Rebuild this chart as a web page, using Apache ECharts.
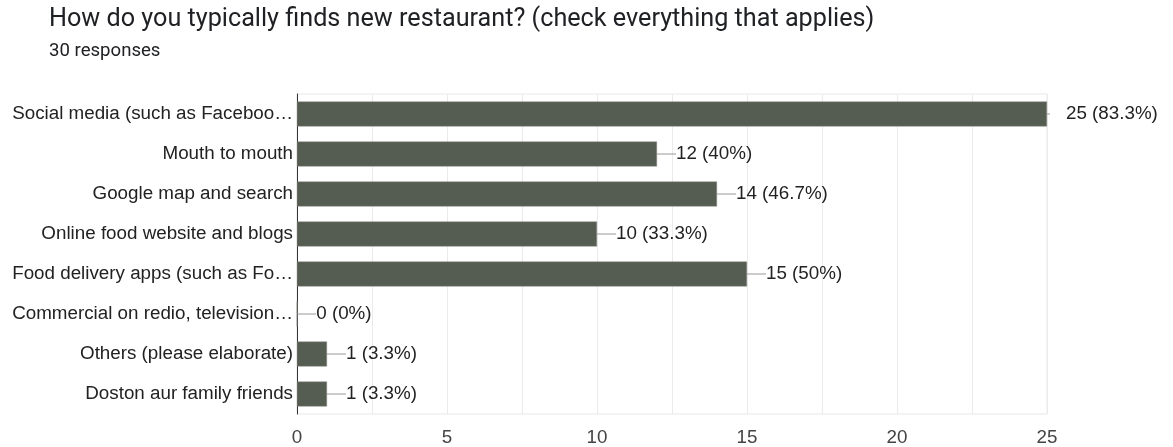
<!DOCTYPE html>
<html>
<head>
<meta charset="utf-8">
<script src="https://cdn.jsdelivr.net/npm/echarts@6/dist/echarts.min.js"></script>
<style>
  html, body { margin: 0; padding: 0; background: #fff; }
  #chart { width: 1173px; height: 447px; }
</style>
</head>
<body>
<div id="chart"></div>
<script>
// Survey question and response data
const questionTitle = 'How do you typically finds new restaurant? (check everything that applies)';
const responseCount = 30;
const categories = [
  'Social media (such as Faceboo…',
  'Mouth to mouth',
  'Google map and search',
  'Online food website and blogs',
  'Food delivery apps (such as Fo…',
  'Commercial on redio, television…',
  'Others (please elaborate)',
  'Doston aur family friends'
];
const counts = [25, 12, 14, 10, 15, 0, 1, 1];
const xTicks = [0, 5, 10, 15, 20, 25];

const xMax = xTicks[xTicks.length - 1];
const pct = v => Math.round(v / responseCount * 1000) / 10;
const labelFont = 'Liberation Sans, Arial, sans-serif';
const labelSize = 18.8;

const chart = echarts.init(document.getElementById('chart'));
chart.setOption({
  animation: false,
  title: [
    {
      text: questionTitle,
      left: 44, top: 2,
      textStyle: { fontFamily: 'Roboto', fontSize: 25.2, fontWeight: 'normal', color: '#202124' }
    },
    {
      text: responseCount + ' responses',
      left: 44, top: 37,
      textStyle: { fontFamily: 'Roboto', fontSize: 18.6, fontWeight: 'normal', color: '#202124' }
    }
  ],
  grid: {
    left: 297, top: 94, width: 750, height: 320,
    show: true, borderColor: '#e8e8e8', borderWidth: 1, backgroundColor: 'transparent'
  },
  xAxis: {
    type: 'value',
    min: xTicks[0], max: xMax, interval: 5,
    axisLine: { show: false },
    axisTick: { show: false },
    axisLabel: {
      margin: 14,
      fontFamily: labelFont,
      fontSize: labelSize, color: '#444'
    },
    splitLine: { show: true, lineStyle: { color: '#ebebeb', width: 1 } },
    minorTick: { show: false, splitNumber: 2 },
    minorSplitLine: { show: true, lineStyle: { color: '#ebebeb', width: 1 } }
  },
  yAxis: {
    type: 'category',
    data: categories,
    inverse: true,
    axisLine: { show: true, lineStyle: { color: '#333', width: 1 } },
    axisTick: { show: false },
    axisLabel: {
      margin: 4,
      fontFamily: labelFont,
      fontSize: labelSize, color: '#222'
    },
    splitLine: { show: false }
  },
  series: [{
    type: 'bar',
    data: counts,
    barWidth: 25,
    itemStyle: { color: '#555c51', borderColor: '#8a8f86', borderWidth: 0.5 },
    label: {
      show: true,
      position: 'right',
      distance: 0,
      fontFamily: labelFont,
      fontSize: labelSize, color: '#222',
      formatter: p => {
        const txt = p.value + ' (' + pct(p.value) + '%)';
        // the longest bar sits on the frame edge; its label is pushed clear of it
        return p.value >= xMax
          ? '{tick|}{gap|}{v|' + txt + '}'
          : '{ln|}{v|' + txt + '}';
      },
      rich: {
        ln: { width: 19, height: 1, backgroundColor: '#999' },
        tick: { width: 3, height: 1, backgroundColor: '#999' },
        gap: { width: 16, height: 1 },
        v: { fontFamily: labelFont, fontSize: labelSize, color: '#222' }
      }
    }
  }]
});
</script>
</body>
</html>
